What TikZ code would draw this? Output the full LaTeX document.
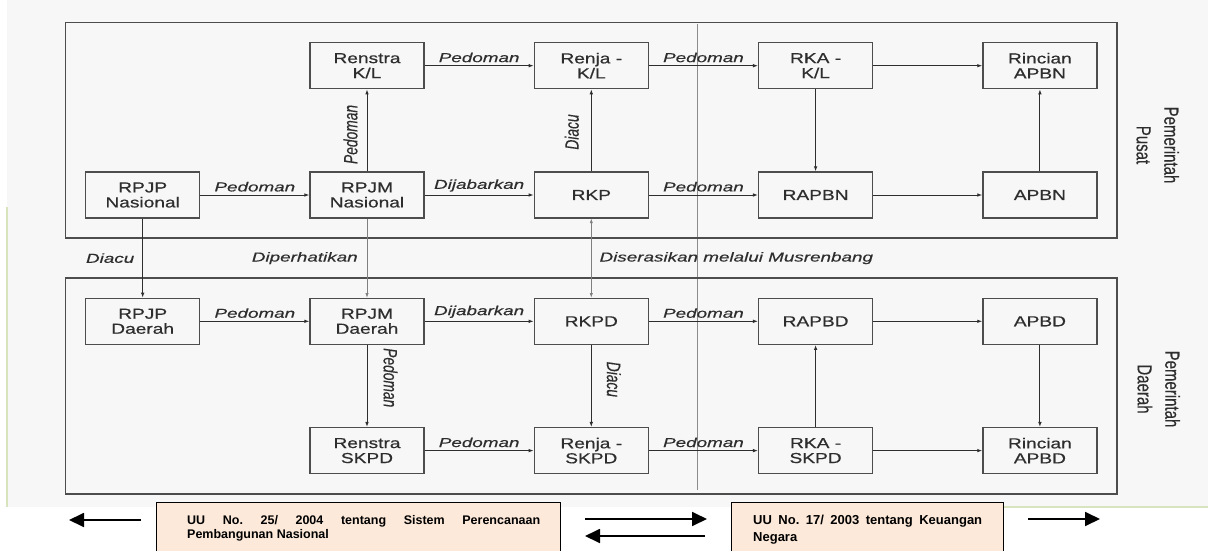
\documentclass[tikz,border=0pt]{standalone}
\usepackage{fontspec}
\setmainfont{Liberation Sans}
\newfontfamily\boxfont[FakeStretch=1.32, FakeBold=0.6]{Liberation Sans}
\newfontfamily\lblfont[FakeStretch=1.45, FakeBold=0.4]{Liberation Sans}
\newfontfamily\vlblfont[FakeBold=0.4]{Liberation Sans}
\newfontfamily\lawfont{Liberation Sans}
\usepackage{graphicx}
\usepackage{tikz}
\usetikzlibrary{positioning, arrows.meta, fit}
\usepackage{xcolor}
\definecolor{inkgray}{HTML}{2E2E2E}
\definecolor{scanbg}{HTML}{F7F7F7}
\definecolor{peach}{HTML}{FDE9D9}
\definecolor{leafline}{HTML}{D7E4BD}

\begin{document}
\begin{tikzpicture}[x=1pt, y=-1pt,
    block/.style={draw=inkgray!85, line width=1.3pt, rectangle, minimum width=114pt,
                  minimum height=46pt, align=center, text=inkgray, inner sep=2pt,
                  font=\boxfont\fontsize{14.5}{15}\selectfont},
    arrow/.style={-{Latex[length=5pt,width=3.6pt]}, draw=inkgray, line width=0.9pt},
    faint/.style={draw=black!45, line width=0.6pt},
    faintarrow/.style={-{Latex[length=4.5pt,width=3.2pt]}, draw=black!50, line width=0.6pt},
    lbl/.style={font=\lblfont\itshape\fontsize{13}{15}\selectfont, text=inkgray, inner sep=2pt},
    vlbl/.style={font=\vlblfont\itshape\fontsize{13.8}{15}\selectfont, text=inkgray, sloped,
                 allow upside down, above, inner xsep=0pt},
    frame/.style={draw=inkgray!85, line width=1.6pt, inner sep=19.5pt},
    sidelbl/.style={rotate=-90, text=inkgray, inner sep=0pt,
                    font=\vlblfont\fontsize{15}{20.5}\selectfont},
    lawbox/.style={draw=black, line width=1.3pt, fill=peach, anchor=north west},
    lawtext/.style={align=justify, inner sep=0pt, anchor=north west},
    bigarrow/.style={-{Triangle[length=15pt,width=14pt]}, line width=1.8pt}
]
\useasboundingbox (0,0) rectangle (1208,551);
\fill[scanbg] (7,0) rectangle (1208,507);
\draw[leafline, line width=1.5pt] (7,207) -- (7,507);
\draw[leafline, line width=1.5pt] (1003,507) -- (1208,507);
\draw[faint] (697,24) -- (697,490);

\node[block] (rpjmnas) at (367,195) {RPJM\\Nasional};
\node[block, left=109pt of rpjmnas] (rpjpnas) {RPJP\\Nasional};
\node[block, above=82pt of rpjmnas] (renstrakl) {Renstra\\K/L};
\node[block, right=109pt of rpjmnas] (rkp) {RKP};
\node[block, above=82pt of rkp] (renjakl) {Renja -\\K/L};
\node[block, right=109pt of rkp] (rapbn) {RAPBN};
\node[block, above=82pt of rapbn] (rkakl) {RKA -\\K/L};
\node[block, right=109pt of rapbn] (apbn) {APBN};
\node[block, above=82pt of apbn] (rinapbn) {Rincian\\APBN};

\node[block, below=79pt of rpjmnas] (rpjmda) {RPJM\\Daerah};
\node[block, left=109pt of rpjmda] (rpjpda) {RPJP\\Daerah};
\node[block, right=109pt of rpjmda] (rkpd) {RKPD};
\node[block, right=109pt of rkpd] (rapbd) {RAPBD};
\node[block, right=109pt of rapbd] (apbd) {APBD};
\node[block, below=82pt of rpjmda] (renstraskpd) {Renstra\\SKPD};
\node[block, below=82pt of rkpd] (renjaskpd) {Renja -\\SKPD};
\node[block, below=82pt of rapbd] (rkaskpd) {RKA -\\SKPD};
\node[block, below=82pt of apbd] (rinapbd) {Rincian\\APBD};

\node[frame, fit=(rpjpnas)(renstrakl)(rinapbn)(apbn)] (pusatframe) {};
\node[frame, fit=(rpjpda)(rinapbd)(apbd)] (daerahframe) {};

\node[sidelbl] (pusatlbl) at (1156,145)
    {\scalebox{1}[1.35]{\begin{tabular}{@{}c@{}}Pemerintah\\Pusat\end{tabular}}};
\node[sidelbl] (daerahlbl) at (1157,389)
    {\scalebox{1}[1.35]{\begin{tabular}{@{}c@{}}Pemerintah\\Daerah\end{tabular}}};

\draw[arrow] (rpjpnas) -- node[lbl, above=1pt] (l1) {Pedoman} (rpjmnas);
\draw[arrow] (rpjmnas) -- node[vlbl, pos=0.45, inner ysep=9pt] (l2) {\scalebox{1}[1.4]{Pedoman}} (renstrakl);
\draw[arrow] (renstrakl) -- node[lbl, above=1pt] (l3) {Pedoman} (renjakl);
\draw[arrow] (rpjmnas) -- node[lbl, above=1pt] (l4) {Dijabarkan} (rkp);
\draw[arrow] (rkp) -- node[vlbl, pos=0.48, inner ysep=12pt] (l5) {\scalebox{1}[1.4]{Diacu}} (renjakl);
\draw[arrow] (renjakl) -- node[lbl, above=1pt] (l6) {Pedoman} (rkakl);
\draw[arrow] (rkp) -- node[lbl, above=1pt] (l7) {Pedoman} (rapbn);
\draw[arrow] (rkakl) -- (rinapbn);
\draw[arrow] (rkakl) -- (rapbn);
\draw[arrow] (rapbn) -- (apbn);
\draw[arrow] (apbn) -- (rinapbn);

\draw[arrow] (rpjpnas) -- node[lbl, left=6pt] (l8) {Diacu} (rpjpda);
\draw[faintarrow] (rpjmnas) -- node[lbl, left=7pt] (l9) {Diperhatikan} (rpjmda);
\draw[faintarrow, {Latex[length=4.5pt,width=3.2pt]}-{Latex[length=4.5pt,width=3.2pt]}] (rkp) --
    node[lbl, right=6pt] (l10) {Diserasikan melalui Musrenbang} (rkpd);

\draw[arrow] (rpjpda) -- node[lbl, above=1pt] (l11) {Pedoman} (rpjmda);
\draw[arrow] (rpjmda) -- node[lbl, above=1pt] (l12) {Dijabarkan} (rkpd);
\draw[arrow] (rkpd) -- node[lbl, above=1pt] (l13) {Pedoman} (rapbd);
\draw[arrow] (rapbd) -- (apbd);
\draw[arrow] (apbd) -- (rinapbd);
\draw[arrow] (rpjmda) -- node[vlbl, pos=0.4, inner ysep=16pt] (l14) {\scalebox{1}[1.4]{Pedoman}} (renstraskpd);
\draw[arrow] (rkpd) -- node[vlbl, pos=0.42, inner ysep=15pt] (l15) {\scalebox{1}[1.4]{Diacu}} (renjaskpd);
\draw[arrow] (renstraskpd) -- node[lbl, above=1pt] (l16) {Pedoman} (renjaskpd);
\draw[arrow] (renjaskpd) -- node[lbl, above=1pt] (l17) {Pedoman} (rkaskpd);
\draw[arrow] (rkaskpd) -- (rinapbd);
\draw[arrow] (rkaskpd) -- (rapbd);

\node[lawbox, minimum width=404pt, minimum height=64pt] (uu25box) at (156,502) {};
\node[lawtext, text width=353pt, font=\lawfont\bfseries\fontsize{12.5}{14.5}\selectfont] (uu25) at (187,515)
    {UU No.\ 25/ 2004 tentang Sistem Perencanaan\linebreak Pembangunan Nasional};
\node[lawbox, minimum width=272pt, minimum height=64pt] (uu17box) at (731,502) {};
\node[lawtext, text width=229pt, font=\lawfont\bfseries\fontsize{13}{17}\selectfont] (uu17) at (753,515)
    {UU No.\ 17/ 2003 tentang Keuangan\linebreak Negara};

\coordinate (leftstart) at (141,520);
\coordinate (leftend) at (69,520);
\coordinate (midstart) at (585,519);
\coordinate (midend) at (707,519);
\coordinate (backstart) at (705,536);
\coordinate (backend) at (585,536);
\coordinate (rightstart) at (1028,519);
\coordinate (rightend) at (1100,519);
\draw[bigarrow] (leftstart) -- (leftend);
\draw[bigarrow] (midstart) -- (midend);
\draw[bigarrow] (backstart) -- (backend);
\draw[bigarrow] (rightstart) -- (rightend);
\end{tikzpicture}
\end{document}
